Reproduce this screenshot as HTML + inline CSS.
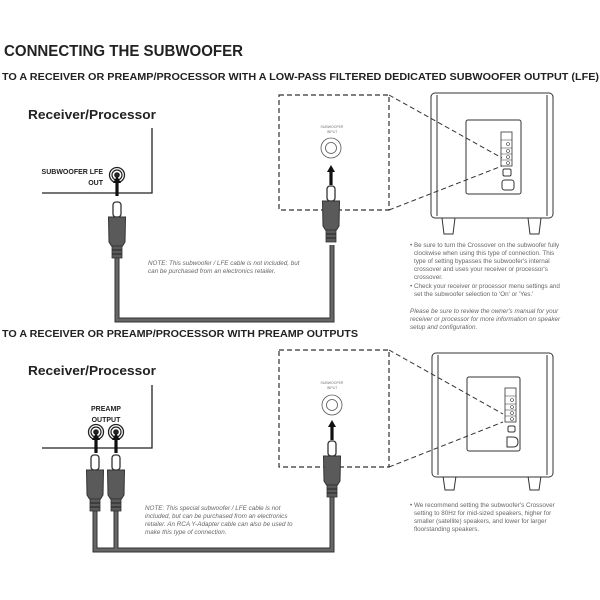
<!DOCTYPE html>
<html><head><meta charset="utf-8"><style>
html,body{margin:0;padding:0;background:#fff}
svg{display:block}
text{font-family:"Liberation Sans",sans-serif}
.b{font-weight:bold;fill:#222}
.n{font-size:6.3px;fill:#666}
.i{font-style:italic}
</style></head><body>
<svg width="600" height="600" viewBox="0 0 600 600" xmlns="http://www.w3.org/2000/svg">
<defs>
<g id="plug">
  <rect x="-4" y="0" width="8" height="15" rx="3" fill="#fff" stroke="#333" stroke-width="1.3"/>
  <path d="M-8.5 15 H8.5 L8 40 L5.5 44 H-5.5 L-8 40 Z" fill="#5a5a5a" stroke="#333" stroke-width="1"/>
  <rect x="-5" y="44" width="10" height="12" fill="#5a5a5a" stroke="#333" stroke-width="0.8"/>
  <line x1="-5" y1="48" x2="5" y2="48" stroke="#222" stroke-width="1"/>
  <line x1="-5" y1="52" x2="5" y2="52" stroke="#222" stroke-width="1"/>
</g>
<g id="arrow">
  <rect x="-1.6" y="6" width="3.2" height="14" fill="#111"/>
  <path d="M-4 7 L0 0 L4 7 Z" fill="#111"/>
</g>
<g id="ojack">
  <circle r="7.5" fill="#fff" stroke="#222" stroke-width="1.3"/>
  <circle r="5" fill="none" stroke="#222" stroke-width="1.2"/>
  <circle r="2.8" fill="#222"/>
</g>
<g id="ijack">
  <circle r="10" fill="#fff" stroke="#555" stroke-width="0.8"/>
  <circle r="5.5" fill="none" stroke="#555" stroke-width="0.8"/>
</g>
</defs>

<text x="4" y="56" class="b" font-size="15.5" textLength="239" lengthAdjust="spacingAndGlyphs">CONNECTING THE SUBWOOFER</text>
<text x="2" y="80" class="b" font-size="9.8" textLength="597" lengthAdjust="spacingAndGlyphs">TO A RECEIVER OR PREAMP/PROCESSOR WITH A LOW-PASS FILTERED DEDICATED SUBWOOFER OUTPUT (LFE)</text>

<!-- TOP -->
<text x="28" y="119" class="b" font-size="13" textLength="128" lengthAdjust="spacingAndGlyphs">Receiver/Processor</text>
<path d="M152 128 V193 H42" fill="none" stroke="#222" stroke-width="1.3"/>
<text x="103" y="174" class="b" font-size="7" text-anchor="end">SUBWOOFER LFE</text>
<text x="103" y="185" class="b" font-size="7" text-anchor="end">OUT</text>
<use href="#ojack" x="117" y="175"/>
<use href="#arrow" x="117" y="176"/>
<path d="M117 255 V320 H332 V245" fill="none" stroke="#333" stroke-width="5"/>
<path d="M117 255 V320 H332 V245" fill="none" stroke="#666" stroke-width="3"/>
<use href="#plug" x="117" y="202"/>

<rect x="279" y="95" width="110" height="115" fill="none" stroke="#333" stroke-width="1.2" stroke-dasharray="5,3"/>
<text x="332" y="128" font-size="3.5" fill="#777" text-anchor="middle">SUBWOOFER</text>
<text x="332" y="133" font-size="3.5" fill="#777" text-anchor="middle">INPUT</text>
<use href="#ijack" x="331" y="148"/>
<use href="#arrow" x="331" y="165"/>
<use href="#plug" x="331" y="186"/>

<!-- subwoofer top -->
<g fill="none" stroke="#333" stroke-width="1">
<path d="M442 218 L444 234 H453 L455 218"/>
<path d="M528 218 L530 234 H539 L541 218"/>
<rect x="431" y="93" width="122" height="125" rx="4" fill="#fff"/>
<line x1="437" y1="95" x2="437" y2="216"/>
<line x1="547" y1="95" x2="547" y2="216"/>
<rect x="466" y="120" width="55" height="74" rx="2"/>
<rect x="501" y="132" width="11" height="34" stroke-width="0.8"/>
<path d="M501 140 H512 M501 148 H512 M501 154 H512 M501 160 H512" stroke-width="0.6"/>
<circle cx="508" cy="144" r="1.5" stroke-width="0.6"/>
<circle cx="508" cy="151" r="1.5" stroke-width="0.6"/>
<circle cx="508" cy="157" r="1.5" stroke-width="0.6"/>
<circle cx="508" cy="163" r="1.5" stroke-width="0.6"/>
<rect x="503" y="169" width="8" height="7" rx="1.5"/>
<rect x="502" y="180" width="12" height="10" rx="2.5"/>
</g>
<line x1="389" y1="95" x2="502" y2="158" stroke="#333" stroke-width="1" stroke-dasharray="5,3"/>
<line x1="389" y1="210" x2="502" y2="166" stroke="#333" stroke-width="1" stroke-dasharray="5,3"/>
<g class="n">
<text x="410" y="247">• Be sure to turn the Crossover on the subwoofer fully</text>
<text x="414" y="255">clockwise when using this type of connection. This</text>
<text x="414" y="263">type of setting bypasses the subwoofer's internal</text>
<text x="414" y="271">crossover and uses your receiver or processor's</text>
<text x="414" y="279">crossover.</text>
<text x="410" y="288">• Check your receiver or processor menu settings and</text>
<text x="414" y="296">set the subwoofer selection to 'On' or 'Yes.'</text>
<text x="410" y="313" class="i">Please be sure to review the owner's manual for your</text>
<text x="410" y="321" class="i">receiver or processor for more information on speaker</text>
<text x="410" y="329" class="i">setup and configuration.</text>
</g>
<g class="n i">
<text x="148" y="265">NOTE: This subwoofer / LFE cable is not included, but</text>
<text x="148" y="273">can be purchased from an electronics retailer.</text>
</g>

<!-- BOTTOM -->
<text x="2" y="337" class="b" font-size="9.8" textLength="356" lengthAdjust="spacingAndGlyphs">TO A RECEIVER OR PREAMP/PROCESSOR WITH PREAMP OUTPUTS</text>
<text x="28" y="375" class="b" font-size="13" textLength="128" lengthAdjust="spacingAndGlyphs">Receiver/Processor</text>
<path d="M152 385 V448 H42" fill="none" stroke="#222" stroke-width="1.3"/>
<text x="106" y="411" class="b" font-size="7" text-anchor="middle">PREAMP</text>
<text x="106" y="422" class="b" font-size="7" text-anchor="middle">OUTPUT</text>
<use href="#ojack" x="96" y="432"/>
<use href="#ojack" x="116" y="432"/>
<use href="#arrow" x="96" y="433"/>
<use href="#arrow" x="116" y="433"/>
<path d="M95 510 V550 H332 V495 M116 510 V550" fill="none" stroke="#333" stroke-width="5"/>
<path d="M95 510 V550 H332 V495 M116 510 V550" fill="none" stroke="#666" stroke-width="3"/>
<use href="#plug" x="95" y="455"/>
<use href="#plug" x="116" y="455"/>

<rect x="279" y="350" width="110" height="117" fill="none" stroke="#333" stroke-width="1.2" stroke-dasharray="5,3"/>
<text x="332" y="384" font-size="3.5" fill="#777" text-anchor="middle">SUBWOOFER</text>
<text x="332" y="389" font-size="3.5" fill="#777" text-anchor="middle">INPUT</text>
<use href="#ijack" x="332" y="405"/>
<use href="#arrow" x="332" y="420"/>
<use href="#plug" x="332" y="441"/>

<g fill="none" stroke="#333" stroke-width="1">
<path d="M443 476 L445 490 H454 L456 476"/>
<path d="M528 476 L530 490 H539 L541 476"/>
<rect x="432" y="353" width="121" height="124" rx="4" fill="#fff"/>
<line x1="438" y1="355" x2="438" y2="475"/>
<line x1="547" y1="355" x2="547" y2="475"/>
<rect x="467" y="377" width="53" height="74" rx="2"/>
<rect x="505" y="388" width="11" height="34" stroke-width="0.8"/>
<path d="M505 396 H516 M505 404 H516 M505 410 H516 M505 416 H516" stroke-width="0.6"/>
<circle cx="512" cy="400" r="1.5" stroke-width="0.6"/>
<circle cx="512" cy="407" r="1.5" stroke-width="0.6"/>
<circle cx="512" cy="413" r="1.5" stroke-width="0.6"/>
<circle cx="512" cy="419" r="1.5" stroke-width="0.6"/>
<rect x="508" y="426" width="7" height="6" rx="1.5"/>
<path d="M507 437 H513 Q518 437 518 442 Q518 447 513 447 H507 Z"/>
</g>
<line x1="389" y1="350" x2="503" y2="414" stroke="#333" stroke-width="1" stroke-dasharray="5,3"/>
<line x1="389" y1="467" x2="503" y2="422" stroke="#333" stroke-width="1" stroke-dasharray="5,3"/>
<g class="n">
<text x="410" y="507">• We recommend setting the subwoofer's Crossover</text>
<text x="414" y="515">setting to 80Hz for mid-sized speakers, higher for</text>
<text x="414" y="523">smaller (satellite) speakers, and lower for larger</text>
<text x="414" y="531">floorstanding speakers.</text>
</g>
<g class="n i">
<text x="145" y="510">NOTE: This special subwoofer / LFE cable is not</text>
<text x="145" y="518">included, but can be purchased from an electronics</text>
<text x="145" y="526">retailer. An RCA Y-Adapter cable can also be used to</text>
<text x="145" y="534">make this type of connection.</text>
</g>
</svg>
</body></html>
